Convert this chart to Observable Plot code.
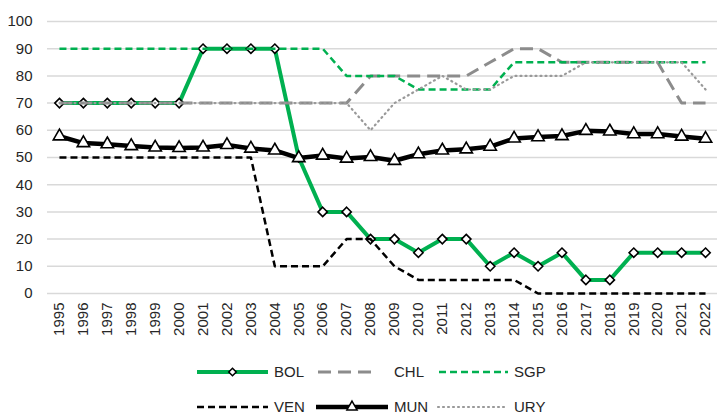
<!DOCTYPE html>
<html>
<head>
<meta charset="utf-8">
<script src="https://cdn.jsdelivr.net/npm/d3@7"></script>
<script src="https://cdn.jsdelivr.net/npm/@observablehq/plot@0.6"></script>
<style>
  body { margin: 0; background: #fff; font-family: "Liberation Sans", Arial, sans-serif; }
  #wrap { position: relative; width: 717px; height: 414px; overflow: hidden; }
  .leg { position: absolute; font-size: 15px; color: #262626; line-height: 1; }
  .leg svg { position: absolute; }
</style>
</head>
<body>
<div id="wrap"></div>
<script>
const years = [1995,1996,1997,1998,1999,2000,2001,2002,2003,2004,2005,2006,2007,2008,2009,2010,2011,2012,2013,2014,2015,2016,2017,2018,2019,2020,2021,2022];
const yTicks = [0,10,20,30,40,50,60,70,80,90,100];

const bol = [70,70,70,70,70,70,90,90,90,90,50,30,30,20,20,15,20,20,10,15,10,15,5,5,15,15,15,15];
const chl = [70,70,70,70,70,70,70,70,70,70,70,70,70,80,80,80,80,80,85,90,90,85,85,85,85,85,70,70];
const sgp = [90,90,90,90,90,90,90,90,90,90,90,90,80,80,80,75,75,75,75,85,85,85,85,85,85,85,85,85];
const ven = [50,50,50,50,50,50,50,50,50,10,10,10,20,20,10,5,5,5,5,5,0,0,0,0,0,0,0,0];
const mun = [57.8,55.3,54.9,54.2,53.7,53.5,53.7,54.6,53.3,52.6,49.8,50.7,49.6,50.2,48.8,51.2,52.6,53.0,54.0,57.0,57.5,57.9,59.8,59.6,58.6,58.6,57.7,56.9];
const ury = [70,70,70,70,70,70,70,70,70,70,70,70,70,60,70,75,80,75,75,80,80,80,85,85,85,85,85,75];

const seriesNames = ["BOL","CHL","SGP","VEN","MUN","URY"];
const seriesValues = [bol, chl, sgp, ven, mun, ury];

const styles = {
  BOL: {stroke: "#00b050", strokeWidth: 4, dash: null, marker: "diamond2"},
  CHL: {stroke: "#8c8c8c", strokeWidth: 3, dash: "13,7", marker: null},
  SGP: {stroke: "#00b050", strokeWidth: 2.5, dash: "7,4", marker: null},
  VEN: {stroke: "#000000", strokeWidth: 2.5, dash: "7,4", marker: null},
  MUN: {stroke: "#000000", strokeWidth: 4.5, dash: null, marker: "triangle"},
  URY: {stroke: "#999999", strokeWidth: 2.2, dash: "1,4", marker: null}
};

const table = seriesNames.map((name, i) => years.map((yr, j) => ({name, year: yr, value: seriesValues[i][j]})));

const marks = [
  Plot.gridY(yTicks, {stroke: "#d9d9d9", strokeOpacity: 1, strokeWidth: 1.5}),
  Plot.axisY(yTicks, {tickSize: 0, tickPadding: 15, fontSize: 15, fill: "#262626", label: null, tickFormat: d => String(d)}),
  Plot.axisX(years, {tickSize: 0, tickPadding: 9, tickRotate: -90, fontSize: 15, fill: "#262626", label: null, tickFormat: d => String(d)})
];
seriesNames.forEach((name, i) => {
  const s = styles[name];
  const round = name === "URY";
  marks.push(Plot.line(table[i], {x: "year", y: "value", stroke: s.stroke, strokeWidth: s.strokeWidth, strokeDasharray: s.dash, strokeLinejoin: "round", strokeLinecap: round ? "round" : "butt"}));
  if (s.marker === "diamond2") {
    marks.push(Plot.dot(table[i], {x: "year", y: "value", symbol: "diamond2", r: 4.2, fill: "white", stroke: "black", strokeWidth: 1.6}));
  } else if (s.marker === "triangle") {
    marks.push(Plot.dot(table[i], {x: "year", y: "value", symbol: "triangle", r: 4.6, fill: "white", stroke: "black", strokeWidth: 1.6}));
  }
});

const chart = Plot.plot({
  width: 717,
  height: 345,
  marginLeft: 47,
  marginRight: 0,
  marginTop: 21,
  marginBottom: 52,
  x: {type: "linear", domain: [1994.5, 2022.5], axis: null, label: null},
  y: {domain: [0, 100], axis: null, label: null},
  style: {fontFamily: "'Liberation Sans', Arial, sans-serif", fontSize: "15px", background: "white"},
  marks
});
const wrap = document.getElementById("wrap");
wrap.appendChild(chart);

// Legend (HTML below the SVG)
const legendItems = [
  {name: "BOL", row: 0, x0: 197, x1: 268, tx: 274},
  {name: "CHL", row: 0, x0: 318, x1: 378, tx: 394},
  {name: "SGP", row: 0, x0: 439, x1: 508, tx: 514},
  {name: "VEN", row: 1, x0: 197, x1: 268, tx: 274},
  {name: "MUN", row: 1, x0: 316, x1: 388, tx: 394},
  {name: "URY", row: 1, x0: 438, x1: 505, tx: 514}
];
const rowY = [372, 407];
legendItems.forEach(it => {
  const s = styles[it.name];
  const y = rowY[it.row];
  const w = it.x1 - it.x0;
  const round = it.name === "URY";
  const svg = d3.create("svg").attr("width", w + 12).attr("height", 16)
    .style("left", (it.x0 - 6) + "px").style("top", (y - 8) + "px").style("position", "absolute");
  svg.append("line").attr("x1", 6).attr("x2", w + 6).attr("y1", 8).attr("y2", 8)
    .attr("stroke", s.stroke).attr("stroke-width", s.strokeWidth)
    .attr("stroke-dasharray", s.dash).attr("stroke-linecap", round ? "round" : "butt");
  if (s.marker) {
    const sym = s.marker === "diamond2" ? d3.symbolDiamond2 : d3.symbolTriangle;
    const size = s.marker === "diamond2" ? 36 : 45;
    svg.append("path").attr("d", d3.symbol(sym, size)()).attr("transform", `translate(${6 + w / 2},8)`)
      .attr("fill", "white").attr("stroke", "black").attr("stroke-width", 1.5);
  }
  wrap.appendChild(svg.node());
  const t = document.createElement("div");
  t.className = "leg";
  t.textContent = it.name;
  t.style.left = it.tx + "px";
  t.style.top = (y - 8) + "px";
  wrap.appendChild(t);
});
</script>
</body>
</html>
